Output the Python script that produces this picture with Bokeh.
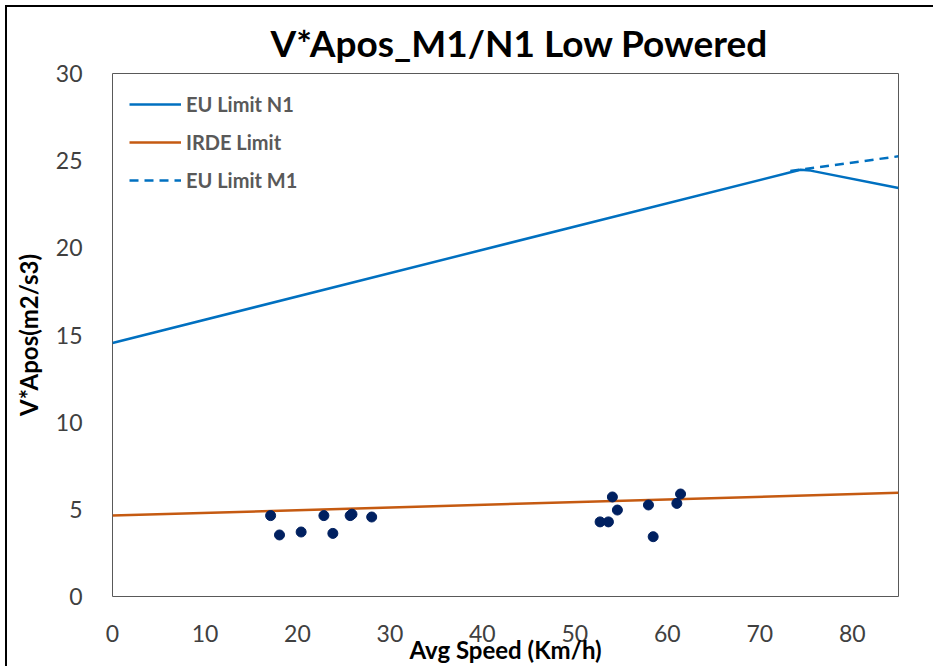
from bokeh.plotting import figure
from bokeh.models import Range1d, Legend, LegendItem, FixedTicker, Title
from bokeh.embed import file_html
from bokeh.resources import INLINE

# ---- data ----
eu_n1_speed = [0, 74.4, 75.5, 85]
eu_n1_val = [14.54, 24.48, 24.43, 23.43]
eu_m1_speed = [73.3, 85]
eu_m1_val = [24.41, 25.25]
irde_speed = [0, 85]
irde_val = [4.64, 5.95]
pt_speed = [17.1, 18.06, 20.4, 22.86, 23.83, 25.7, 25.9, 28.03,
            52.73, 53.63, 54.06, 54.6, 57.96, 58.47, 61.03, 61.43]
pt_val = [4.64, 3.53, 3.70, 4.64, 3.62, 4.64, 4.72, 4.56,
          4.28, 4.28, 5.71, 4.96, 5.25, 3.43, 5.34, 5.88]
x_ticks = [0, 10, 20, 30, 40, 50, 60, 70, 80]
y_ticks = [0, 5, 10, 15, 20, 25, 30]

FONT = "Lato"
BLUE = "#0070C0"
ORANGE = "#C55A11"
NAVY = "#002060"

p = figure(width=928, height=661, output_backend="svg", toolbar_location=None,
           x_range=Range1d(0, 85), y_range=Range1d(0, 30),
           min_border_left=105, min_border_right=37, min_border_top=66, min_border_bottom=72,
           styles={"margin-left": "5px", "margin-top": "5px",
                   "border-left": "2px solid black", "border-top": "2px solid black"})
p.title = None
t = Title(text="V*Apos_M1/N1 Low Powered", align="left", text_font=FONT,
          text_font_size="37px", text_font_style="bold", text_color="black",
          offset=158, standoff=18)
p.add_layout(t, "above")

p.xgrid.visible = False
p.ygrid.visible = False
p.outline_line_color = "#595959"
p.outline_line_width = 1

for ax in (p.xaxis[0], p.yaxis[0]):
    ax.axis_line_color = None
    ax.major_tick_line_color = None
    ax.minor_tick_line_color = None
    ax.major_label_text_font = FONT
    ax.major_label_text_font_size = "23px"
    ax.major_label_text_color = "#404040"
    ax.axis_label_text_font = FONT
    ax.axis_label_text_font_style = "bold"
    ax.axis_label_text_font_size = "24px"
    ax.axis_label_text_color = "black"

p.xaxis.ticker = FixedTicker(ticks=x_ticks)
p.yaxis.ticker = FixedTicker(ticks=y_ticks)
p.xaxis.major_label_standoff = 22
p.yaxis.major_label_standoff = 24
p.xaxis.axis_label = "Avg Speed (Km/h)"
p.yaxis.axis_label = "V*Apos(m2/s3)"
p.xaxis.axis_label_standoff = -10
p.yaxis.axis_label_standoff = 10

r_n1 = p.line(eu_n1_speed, eu_n1_val, line_color=BLUE, line_width=2.5)
r_irde = p.line(irde_speed, irde_val, line_color=ORANGE, line_width=2.5)
r_m1 = p.line(eu_m1_speed, eu_m1_val, line_color=BLUE, line_width=2.5, line_dash="9 6")
p.scatter(pt_speed, pt_val, size=10, fill_color=NAVY, line_color=NAVY)

legend = Legend(items=[LegendItem(label="EU Limit N1", renderers=[r_n1]),
                       LegendItem(label="IRDE Limit", renderers=[r_irde]),
                       LegendItem(label="EU Limit M1", renderers=[r_m1])],
                location="top_left", margin=17, padding=6, spacing=10,
                glyph_width=52, glyph_height=28, label_height=28, label_standoff=5,
                label_text_font=FONT, label_text_font_size="20px",
                label_text_font_style="bold", label_text_color="#595959",
                border_line_color=None, background_fill_alpha=0)
p.add_layout(legend)

open("out.html", "w").write(file_html(p, INLINE))
